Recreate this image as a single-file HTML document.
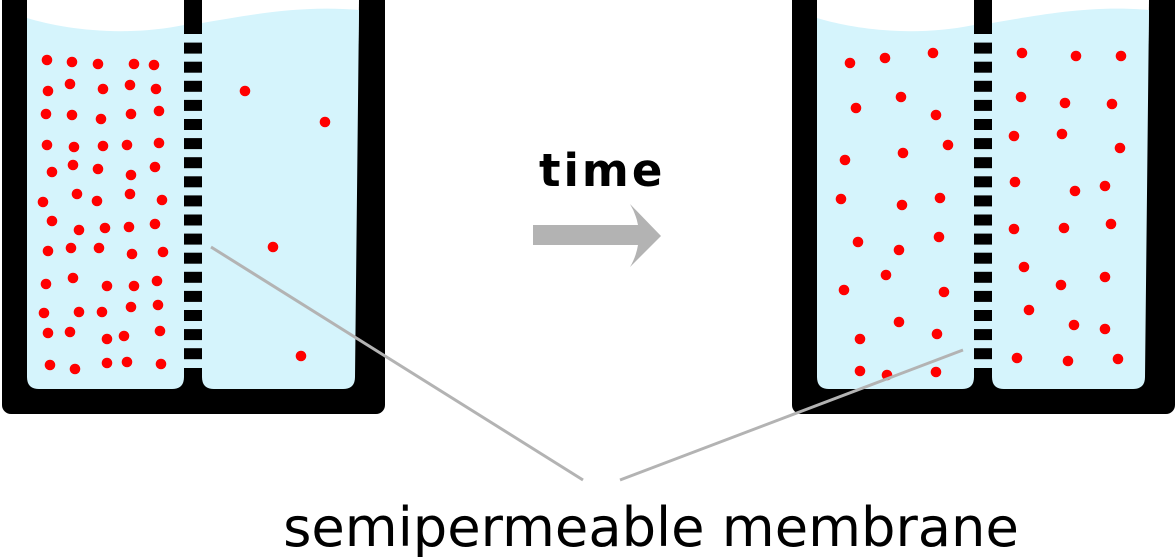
<!DOCTYPE html>
<html><head><meta charset="utf-8"><style>
html,body{margin:0;padding:0;background:#fff;}
svg{display:block;}
</style></head><body>
<svg width="1175" height="557" viewBox="0 0 1175 557" xmlns="http://www.w3.org/2000/svg">
<defs>
<g id="beaker">
  <rect x="2" y="-20" width="383" height="434" rx="9" ry="9" fill="#000"/>
  <rect x="27" y="0" width="157" height="45" fill="#fff"/>
  <path d="M202,0 L359,0 L358.5,45 L202,45 Z" fill="#fff"/>
  <path d="M27,18 C60,28 120,38 184,25 L184,377 Q184,389 172,389 L39,389 Q27,389 27,377 Z" fill="#d5f4fc"/>
  <path d="M202,23 C250,15 300,5 359,10 L355,377 Q355,389 343,389 L214,389 Q202,389 202,377 Z" fill="#d5f4fc"/>
  <rect x="184" y="34" width="18" height="334" fill="#d5f4fc"/>
  <g fill="#000">
    <rect x="184" y="0" width="18" height="34"/>
    <rect x="184" y="42.6" width="18" height="11"/>
    <rect x="184" y="61.7" width="18" height="11"/>
    <rect x="184" y="80.8" width="18" height="11"/>
    <rect x="184" y="99.9" width="18" height="11"/>
    <rect x="184" y="119" width="18" height="11"/>
    <rect x="184" y="138.1" width="18" height="11"/>
    <rect x="184" y="157.2" width="18" height="11"/>
    <rect x="184" y="176.3" width="18" height="11"/>
    <rect x="184" y="195.4" width="18" height="11"/>
    <rect x="184" y="214.5" width="18" height="11"/>
    <rect x="184" y="233.6" width="18" height="11"/>
    <rect x="184" y="252.7" width="18" height="11"/>
    <rect x="184" y="271.8" width="18" height="11"/>
    <rect x="184" y="290.9" width="18" height="11"/>
    <rect x="184" y="310" width="18" height="11"/>
    <rect x="184" y="329.1" width="18" height="11"/>
    <rect x="184" y="348.2" width="18" height="11"/>
    <rect x="184" y="368" width="18" height="30"/>
  </g>
</g>
</defs>

<use href="#beaker"/>
<use href="#beaker" transform="translate(790,0)"/>

<!-- left beaker dots -->
<g fill="#ff0000">
  <circle cx="47" cy="60" r="5.3"/><circle cx="72" cy="62" r="5.3"/><circle cx="98" cy="64" r="5.3"/><circle cx="134" cy="64" r="5.3"/><circle cx="154" cy="65" r="5.3"/>
  <circle cx="48" cy="91" r="5.3"/><circle cx="70" cy="84" r="5.3"/><circle cx="103" cy="89" r="5.3"/><circle cx="130" cy="85" r="5.3"/><circle cx="156" cy="89" r="5.3"/>
  <circle cx="46" cy="114" r="5.3"/><circle cx="72" cy="115" r="5.3"/><circle cx="101" cy="119" r="5.3"/><circle cx="131" cy="114" r="5.3"/><circle cx="159" cy="111" r="5.3"/>
  <circle cx="47" cy="145" r="5.3"/><circle cx="74" cy="147" r="5.3"/><circle cx="103" cy="146" r="5.3"/><circle cx="127" cy="145" r="5.3"/><circle cx="159" cy="143" r="5.3"/>
  <circle cx="52" cy="172" r="5.3"/><circle cx="73" cy="165" r="5.3"/><circle cx="98" cy="169" r="5.3"/><circle cx="131" cy="175" r="5.3"/><circle cx="155" cy="167" r="5.3"/>
  <circle cx="43" cy="202" r="5.3"/><circle cx="77" cy="194" r="5.3"/><circle cx="97" cy="201" r="5.3"/><circle cx="130" cy="194" r="5.3"/><circle cx="162" cy="200" r="5.3"/>
  <circle cx="52" cy="221" r="5.3"/><circle cx="79" cy="230" r="5.3"/><circle cx="105" cy="228" r="5.3"/><circle cx="129" cy="227" r="5.3"/><circle cx="155" cy="224" r="5.3"/>
  <circle cx="48" cy="251" r="5.3"/><circle cx="71" cy="248" r="5.3"/><circle cx="99" cy="248" r="5.3"/><circle cx="132" cy="254" r="5.3"/><circle cx="163" cy="252" r="5.3"/>
  <circle cx="46" cy="284" r="5.3"/><circle cx="73" cy="278" r="5.3"/><circle cx="107" cy="286" r="5.3"/><circle cx="134" cy="286" r="5.3"/><circle cx="157" cy="281" r="5.3"/>
  <circle cx="44" cy="313" r="5.3"/><circle cx="79" cy="312" r="5.3"/><circle cx="102" cy="312" r="5.3"/><circle cx="131" cy="307" r="5.3"/><circle cx="158" cy="305" r="5.3"/>
  <circle cx="48" cy="333" r="5.3"/><circle cx="70" cy="332" r="5.3"/><circle cx="107" cy="339" r="5.3"/><circle cx="124" cy="336" r="5.3"/><circle cx="160" cy="331" r="5.3"/>
  <circle cx="50" cy="365" r="5.3"/><circle cx="75" cy="369" r="5.3"/><circle cx="107" cy="363" r="5.3"/><circle cx="127" cy="362" r="5.3"/><circle cx="161" cy="364" r="5.3"/>
  <circle cx="245" cy="91" r="5.3"/><circle cx="325" cy="122" r="5.3"/><circle cx="273" cy="247" r="5.3"/><circle cx="301" cy="356" r="5.3"/>
</g>

<!-- right beaker dots -->
<g fill="#ff0000">
  <circle cx="850" cy="63" r="5.3"/><circle cx="885" cy="58" r="5.3"/><circle cx="933" cy="53" r="5.3"/>
  <circle cx="856" cy="108" r="5.3"/><circle cx="901" cy="97" r="5.3"/><circle cx="936" cy="115" r="5.3"/>
  <circle cx="948" cy="145" r="5.3"/><circle cx="845" cy="160" r="5.3"/><circle cx="903" cy="153" r="5.3"/>
  <circle cx="841" cy="199" r="5.3"/><circle cx="902" cy="205" r="5.3"/><circle cx="940" cy="198" r="5.3"/>
  <circle cx="858" cy="242" r="5.3"/><circle cx="899" cy="250" r="5.3"/><circle cx="939" cy="237" r="5.3"/>
  <circle cx="886" cy="275" r="5.3"/><circle cx="844" cy="290" r="5.3"/><circle cx="944" cy="292" r="5.3"/>
  <circle cx="899" cy="322" r="5.3"/><circle cx="860" cy="339" r="5.3"/><circle cx="937" cy="334" r="5.3"/>
  <circle cx="860" cy="371" r="5.3"/><circle cx="887" cy="375" r="5.3"/><circle cx="936" cy="372" r="5.3"/>
  <circle cx="1022" cy="53" r="5.3"/><circle cx="1076" cy="56" r="5.3"/><circle cx="1121" cy="56" r="5.3"/>
  <circle cx="1021" cy="97" r="5.3"/><circle cx="1065" cy="103" r="5.3"/><circle cx="1112" cy="104" r="5.3"/>
  <circle cx="1014" cy="136" r="5.3"/><circle cx="1062" cy="134" r="5.3"/><circle cx="1120" cy="148" r="5.3"/>
  <circle cx="1015" cy="182" r="5.3"/><circle cx="1075" cy="191" r="5.3"/><circle cx="1105" cy="186" r="5.3"/>
  <circle cx="1014" cy="229" r="5.3"/><circle cx="1064" cy="228" r="5.3"/><circle cx="1111" cy="224" r="5.3"/>
  <circle cx="1024" cy="267" r="5.3"/><circle cx="1061" cy="285" r="5.3"/><circle cx="1105" cy="277" r="5.3"/>
  <circle cx="1029" cy="310" r="5.3"/><circle cx="1074" cy="325" r="5.3"/><circle cx="1105" cy="329" r="5.3"/>
  <circle cx="1017" cy="358" r="5.3"/><circle cx="1068" cy="361" r="5.3"/><circle cx="1118" cy="359" r="5.3"/>
</g>

<!-- pointer lines -->
<g stroke="#b3b3b3" stroke-width="3" fill="none">
  <line x1="211" y1="247" x2="583" y2="480"/>
  <line x1="620" y1="480" x2="963" y2="350"/>
</g>

<!-- arrow -->
<path d="M533,225 L638,225 Q636,214 630,204 L661,236 L630,267 Q636,257 638,245 L533,245 Z" fill="#b3b3b3"/>

<text x="539" y="186" font-family="DejaVu Sans, sans-serif" font-weight="bold" font-size="45" letter-spacing="3" fill="#000">time</text>

<text x="651" y="546" font-family="DejaVu Sans, sans-serif" font-size="54.3" text-anchor="middle" fill="#000">semipermeable membrane</text>
</svg>
</body></html>
